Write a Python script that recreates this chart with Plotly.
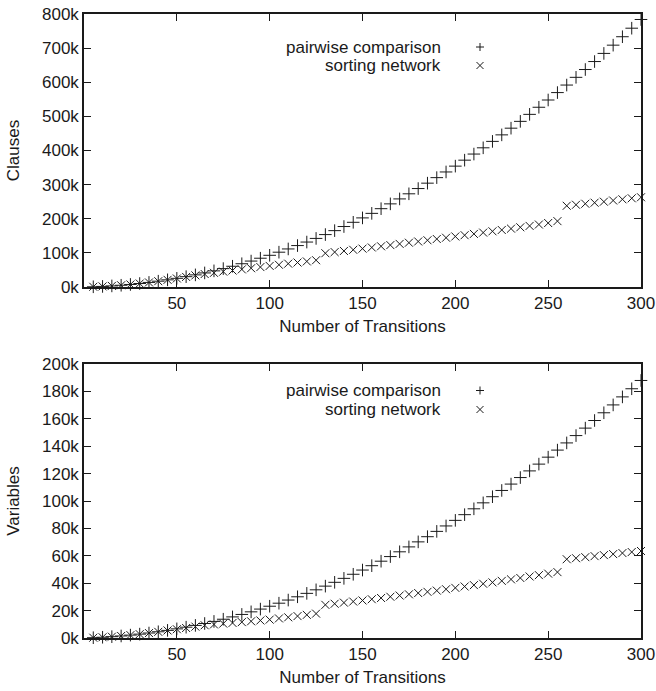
import plotly.graph_objects as go

# Number of transitions (x values)
transitions = list(range(5, 301, 5))

# Clauses (in thousands)
clauses_pairwise = [
    0.65, 1.7, 3.2, 5.1, 7.4, 10.2, 13.4, 17.0, 21.0, 25.4,
    30.3, 35.5, 41.2, 47.3, 53.9, 60.8, 68.2, 76.0, 84.3, 92.9,
    102.0, 111.5, 121.4, 131.7, 142.4, 153.6, 165.2, 177.2, 189.6, 202.5,
    215.8, 229.5, 243.6, 258.1, 273.1, 288.5, 304.3, 320.5, 337.1, 354.2,
    371.7, 389.6, 407.9, 426.7, 445.8, 465.4, 485.4, 505.9, 526.7, 548.0,
    569.7, 591.8, 614.4, 637.3, 660.7, 684.5, 708.7, 733.4, 758.4, 783.9,
]
clauses_sorting = [
    0.65, 1.7, 3.2, 5.1, 7.4, 10.2, 13.4, 17.0, 21.0, 25.0,
    29.5, 34.0, 38.0, 41.5, 45.0, 48.3, 51.6, 55.0, 58.4, 61.8,
    65.1, 68.4, 71.7, 75.0, 78.5, 99.0, 102.3, 105.6, 109.0, 112.4,
    115.8, 119.3, 122.8, 126.3, 129.8, 133.4, 137.0, 140.7, 144.4, 148.1,
    151.8, 155.6, 159.4, 163.2, 167.1, 171.0, 175.0, 179.0, 183.1, 187.5,
    193.0, 238.0, 241.0, 244.0, 247.0, 250.0, 253.5, 257.0, 260.0, 263.0,
]

# Variables (in thousands)
variables_pairwise = [
    0.22, 0.54, 0.96, 1.48, 2.10, 2.82, 3.63, 4.55, 5.56, 6.67,
    7.88, 9.19, 10.59, 12.10, 13.70, 15.40, 17.20, 19.10, 21.10, 23.20,
    25.40, 27.69, 30.08, 32.58, 35.17, 37.86, 40.64, 43.53, 46.51, 49.60,
    52.78, 56.06, 59.44, 62.92, 66.50, 70.17, 73.95, 77.82, 81.79, 85.86,
    90.03, 94.30, 98.66, 103.13, 107.69, 112.35, 117.11, 121.97, 126.93, 131.99,
    137.15, 142.40, 147.75, 153.20, 158.75, 164.40, 170.14, 175.99, 181.93, 187.98,
]
variables_sorting = [
    0.22, 0.54, 0.96, 1.48, 2.10, 2.80, 3.60, 4.50, 5.50, 6.40,
    7.30, 8.30, 9.30, 9.90, 10.50, 11.00, 11.60, 12.20, 12.80, 13.40,
    14.30, 15.10, 16.00, 16.90, 17.80, 24.20, 25.00, 25.80, 26.60, 27.40,
    28.30, 29.20, 30.10, 31.00, 31.90, 32.80, 33.70, 34.60, 35.60, 36.60,
    37.60, 38.60, 39.60, 40.60, 41.70, 42.80, 43.80, 44.90, 45.90, 47.00,
    48.10, 57.50, 58.25, 59.00, 59.75, 60.50, 61.25, 62.00, 62.75, 63.50,
]

x_ticks = [50, 100, 150, 200, 250, 300]
clauses_ticks = [0, 100, 200, 300, 400, 500, 600, 700, 800]
clauses_ticktext = ["0k", "100k", "200k", "300k", "400k", "500k", "600k", "700k", "800k"]
variables_ticks = [0, 20, 40, 60, 80, 100, 120, 140, 160, 180, 200]
variables_ticktext = ["0k", "20k", "40k", "60k", "80k", "100k", "120k", "140k", "160k", "180k", "200k"]
series_names = ["pairwise comparison", "sorting network"]

FONT = "Liberation Sans, Arial, Helvetica, sans-serif"
INK = "#1a1a1a"
FS = 17
W, H = 656, 691
ML, MR, MT, MB = 84, 15, 14, 53
PW, PH = W - ML - MR, H - MT - MB


def py(pix_y):
    return (H - MB - pix_y) / PH


def px(pix_x):
    return (pix_x - ML) / PW


fig = go.Figure()

mk_plus = dict(symbol="cross-thin", size=9, color=INK, line=dict(width=1, color=INK))
mk_x = dict(symbol="x-thin", size=8, color=INK, line=dict(width=1, color=INK))

fig.add_trace(go.Scatter(x=transitions, y=clauses_pairwise, mode="markers", marker=mk_plus,
                         name=series_names[0], xaxis="x", yaxis="y", cliponaxis=False, showlegend=False))
fig.add_trace(go.Scatter(x=transitions, y=clauses_sorting, mode="markers", marker=mk_x,
                         name=series_names[1], xaxis="x", yaxis="y", cliponaxis=False, showlegend=False))
fig.add_trace(go.Scatter(x=transitions, y=variables_pairwise, mode="markers", marker=mk_plus,
                         name=series_names[0], xaxis="x2", yaxis="y2", cliponaxis=False, showlegend=False))
fig.add_trace(go.Scatter(x=transitions, y=variables_sorting, mode="markers", marker=mk_x,
                         name=series_names[1], xaxis="x2", yaxis="y2", cliponaxis=False, showlegend=False))

axis_common = dict(
    showline=True, linecolor=INK, linewidth=1.5, mirror="ticks",
    ticks="inside", ticklen=7, tickwidth=1.2, tickcolor=INK,
    showgrid=False, zeroline=False, automargin=False,
    tickfont=dict(family=FONT, size=FS, color=INK),
)
title_font = dict(family=FONT, size=FS, color=INK)

top_dom = [py(287), 1.0]
bot_dom = [0.0, py(364)]

fig.update_layout(
    width=W, height=H,
    margin=dict(l=ML, r=MR, t=MT, b=MB),
    paper_bgcolor="white", plot_bgcolor="white",
    font=dict(family=FONT, size=FS, color=INK),
    xaxis=dict(axis_common, domain=[0, 1], anchor="y", range=[0, 300], tickvals=x_ticks,
               title=dict(text="Number of Transitions", standoff=8, font=title_font)),
    yaxis=dict(axis_common, domain=top_dom, anchor="x", range=[0, 800],
               tickvals=clauses_ticks, ticktext=clauses_ticktext,
               title=dict(text="Clauses", standoff=18, font=title_font)),
    xaxis2=dict(axis_common, domain=[0, 1], anchor="y2", range=[0, 300], tickvals=x_ticks,
                title=dict(text="Number of Transitions", standoff=8, font=title_font)),
    yaxis2=dict(axis_common, domain=bot_dom, anchor="x2", range=[0, 200],
                tickvals=variables_ticks, ticktext=variables_ticktext,
                title=dict(text="Variables", standoff=18, font=title_font)),
)

# Legend (gnuplot style: right-aligned text, sample to the right)
legend_rows = [
    (47, 0, "plus"), (65.5, 1, "x"),
    (390.5, 0, "plus"), (409.5, 1, "x"),
]
for pix_y, idx, kind in legend_rows:
    fig.add_annotation(x=px(443), y=py(pix_y), xref="paper", yref="paper",
                       xanchor="right", yanchor="middle", showarrow=False,
                       text=series_names[idx], font=dict(family=FONT, size=FS, color=INK))
    ax, ay = px(480), py(pix_y)
    if kind == "plus":
        segs = [(-4, 0, 4, 0), (0, -4, 0, 4)]
    else:
        segs = [(-3.5, -3.5, 3.5, 3.5), (-3.5, 3.5, 3.5, -3.5)]
    for x0, y0, x1, y1 in segs:
        fig.add_shape(type="line", xref="paper", yref="paper",
                      xsizemode="pixel", ysizemode="pixel", xanchor=ax, yanchor=ay,
                      x0=x0, y0=y0, x1=x1, y1=y1, line=dict(color=INK, width=1))

fig.write_html("out.html", config={"displayModeBar": False},
               post_script="document.body.style.margin='0';document.body.style.overflow='hidden';")
